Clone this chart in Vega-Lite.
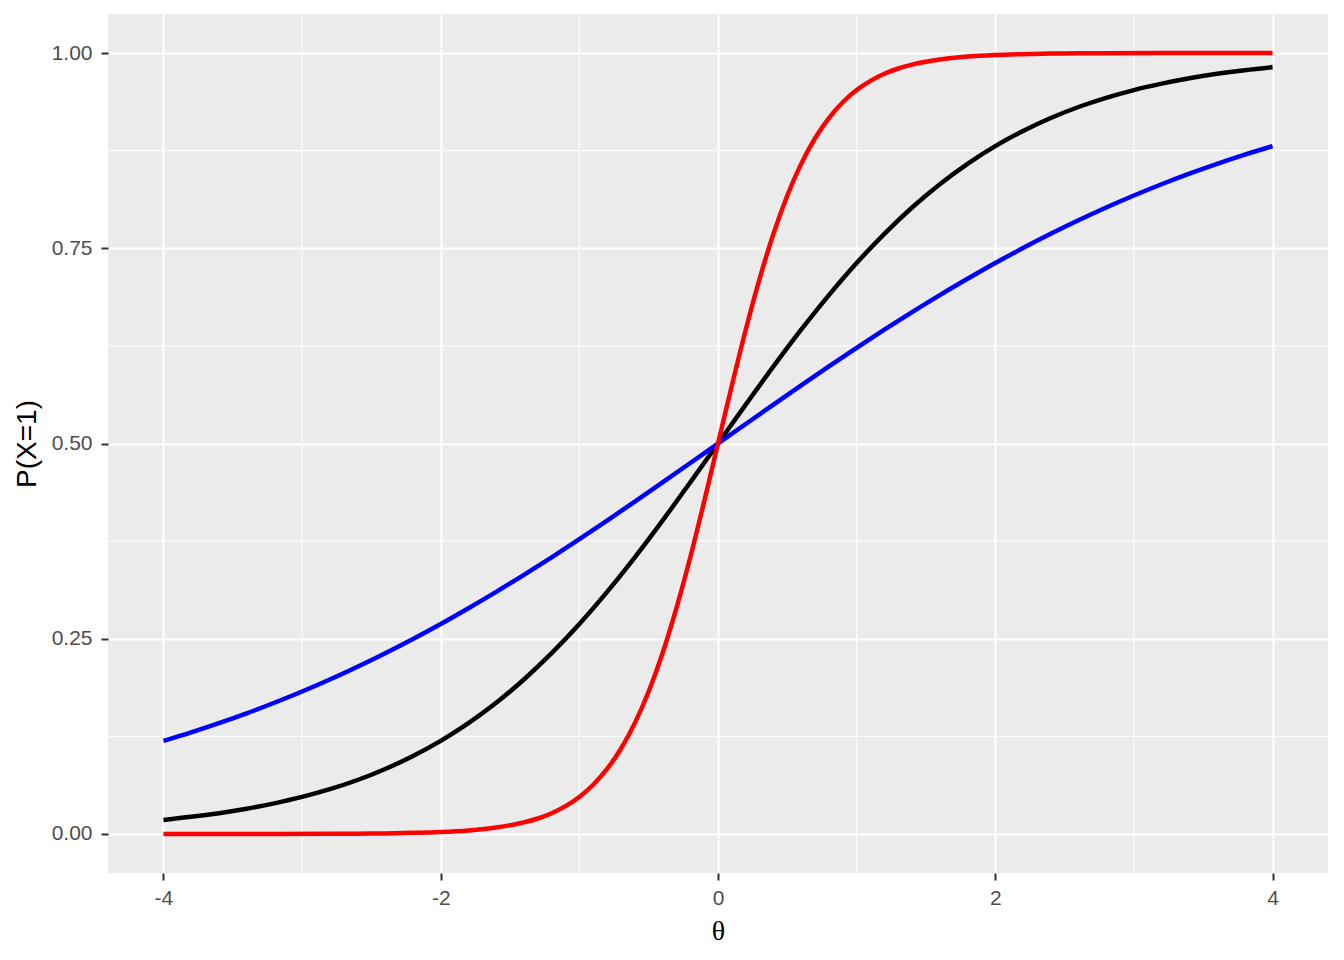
{
  "$schema": "https://vega.github.io/schema/vega-lite/v6.json",
  "width": 1220,
  "height": 859,
  "autosize": {"type": "none"},
  "padding": {"left": 108, "top": 14, "right": 16, "bottom": 87},
  "background": "white",
  "config": {
    "view": {"fill": "#EBEBEB", "stroke": null},
    "axis": {
      "domain": false,
      "gridColor": "white",
      "gridWidth": 2,
      "tickColor": "#333333",
      "tickWidth": 2,
      "tickSize": 7,
      "labelColor": "#4D4D4D",
      "labelFont": "Liberation Sans",
      "labelFontSize": 21,
      "titleColor": "black",
      "titleFontWeight": "normal"
    }
  },
  "datasets": {
    "curves": [
      {"theta": -4.0, "p": 0.0180, "curve": "a1"},
      {"theta": -3.8, "p": 0.0219, "curve": "a1"},
      {"theta": -3.6, "p": 0.0266, "curve": "a1"},
      {"theta": -3.4, "p": 0.0323, "curve": "a1"},
      {"theta": -3.2, "p": 0.0392, "curve": "a1"},
      {"theta": -3.0, "p": 0.0474, "curve": "a1"},
      {"theta": -2.8, "p": 0.0573, "curve": "a1"},
      {"theta": -2.6, "p": 0.0691, "curve": "a1"},
      {"theta": -2.4, "p": 0.0832, "curve": "a1"},
      {"theta": -2.2, "p": 0.0998, "curve": "a1"},
      {"theta": -2.0, "p": 0.1192, "curve": "a1"},
      {"theta": -1.8, "p": 0.1419, "curve": "a1"},
      {"theta": -1.6, "p": 0.1680, "curve": "a1"},
      {"theta": -1.4, "p": 0.1978, "curve": "a1"},
      {"theta": -1.2, "p": 0.2315, "curve": "a1"},
      {"theta": -1.0, "p": 0.2689, "curve": "a1"},
      {"theta": -0.8, "p": 0.3100, "curve": "a1"},
      {"theta": -0.6, "p": 0.3543, "curve": "a1"},
      {"theta": -0.4, "p": 0.4013, "curve": "a1"},
      {"theta": -0.2, "p": 0.4502, "curve": "a1"},
      {"theta": 0.0, "p": 0.5000, "curve": "a1"},
      {"theta": 0.2, "p": 0.5498, "curve": "a1"},
      {"theta": 0.4, "p": 0.5987, "curve": "a1"},
      {"theta": 0.6, "p": 0.6457, "curve": "a1"},
      {"theta": 0.8, "p": 0.6900, "curve": "a1"},
      {"theta": 1.0, "p": 0.7311, "curve": "a1"},
      {"theta": 1.2, "p": 0.7685, "curve": "a1"},
      {"theta": 1.4, "p": 0.8022, "curve": "a1"},
      {"theta": 1.6, "p": 0.8320, "curve": "a1"},
      {"theta": 1.8, "p": 0.8581, "curve": "a1"},
      {"theta": 2.0, "p": 0.8808, "curve": "a1"},
      {"theta": 2.2, "p": 0.9002, "curve": "a1"},
      {"theta": 2.4, "p": 0.9168, "curve": "a1"},
      {"theta": 2.6, "p": 0.9309, "curve": "a1"},
      {"theta": 2.8, "p": 0.9427, "curve": "a1"},
      {"theta": 3.0, "p": 0.9526, "curve": "a1"},
      {"theta": 3.2, "p": 0.9608, "curve": "a1"},
      {"theta": 3.4, "p": 0.9677, "curve": "a1"},
      {"theta": 3.6, "p": 0.9734, "curve": "a1"},
      {"theta": 3.8, "p": 0.9781, "curve": "a1"},
      {"theta": 4.0, "p": 0.9820, "curve": "a1"},

      {"theta": -4.0, "p": 0.1192, "curve": "a2"},
      {"theta": -3.8, "p": 0.1301, "curve": "a2"},
      {"theta": -3.6, "p": 0.1419, "curve": "a2"},
      {"theta": -3.4, "p": 0.1545, "curve": "a2"},
      {"theta": -3.2, "p": 0.1680, "curve": "a2"},
      {"theta": -3.0, "p": 0.1824, "curve": "a2"},
      {"theta": -2.8, "p": 0.1978, "curve": "a2"},
      {"theta": -2.6, "p": 0.2142, "curve": "a2"},
      {"theta": -2.4, "p": 0.2315, "curve": "a2"},
      {"theta": -2.2, "p": 0.2497, "curve": "a2"},
      {"theta": -2.0, "p": 0.2689, "curve": "a2"},
      {"theta": -1.8, "p": 0.2891, "curve": "a2"},
      {"theta": -1.6, "p": 0.3100, "curve": "a2"},
      {"theta": -1.4, "p": 0.3318, "curve": "a2"},
      {"theta": -1.2, "p": 0.3543, "curve": "a2"},
      {"theta": -1.0, "p": 0.3775, "curve": "a2"},
      {"theta": -0.8, "p": 0.4013, "curve": "a2"},
      {"theta": -0.6, "p": 0.4256, "curve": "a2"},
      {"theta": -0.4, "p": 0.4502, "curve": "a2"},
      {"theta": -0.2, "p": 0.4750, "curve": "a2"},
      {"theta": 0.0, "p": 0.5000, "curve": "a2"},
      {"theta": 0.2, "p": 0.5250, "curve": "a2"},
      {"theta": 0.4, "p": 0.5498, "curve": "a2"},
      {"theta": 0.6, "p": 0.5744, "curve": "a2"},
      {"theta": 0.8, "p": 0.5987, "curve": "a2"},
      {"theta": 1.0, "p": 0.6225, "curve": "a2"},
      {"theta": 1.2, "p": 0.6457, "curve": "a2"},
      {"theta": 1.4, "p": 0.6682, "curve": "a2"},
      {"theta": 1.6, "p": 0.6900, "curve": "a2"},
      {"theta": 1.8, "p": 0.7109, "curve": "a2"},
      {"theta": 2.0, "p": 0.7311, "curve": "a2"},
      {"theta": 2.2, "p": 0.7503, "curve": "a2"},
      {"theta": 2.4, "p": 0.7685, "curve": "a2"},
      {"theta": 2.6, "p": 0.7858, "curve": "a2"},
      {"theta": 2.8, "p": 0.8022, "curve": "a2"},
      {"theta": 3.0, "p": 0.8176, "curve": "a2"},
      {"theta": 3.2, "p": 0.8320, "curve": "a2"},
      {"theta": 3.4, "p": 0.8455, "curve": "a2"},
      {"theta": 3.6, "p": 0.8581, "curve": "a2"},
      {"theta": 3.8, "p": 0.8699, "curve": "a2"},
      {"theta": 4.0, "p": 0.8808, "curve": "a2"},

      {"theta": -4.0, "p": 0.0000, "curve": "a3"},
      {"theta": -3.6, "p": 0.0000, "curve": "a3"},
      {"theta": -3.2, "p": 0.0001, "curve": "a3"},
      {"theta": -2.8, "p": 0.0002, "curve": "a3"},
      {"theta": -2.6, "p": 0.0004, "curve": "a3"},
      {"theta": -2.4, "p": 0.0007, "curve": "a3"},
      {"theta": -2.2, "p": 0.0014, "curve": "a3"},
      {"theta": -2.0, "p": 0.0025, "curve": "a3"},
      {"theta": -1.8, "p": 0.0045, "curve": "a3"},
      {"theta": -1.6, "p": 0.0082, "curve": "a3"},
      {"theta": -1.4, "p": 0.0148, "curve": "a3"},
      {"theta": -1.3, "p": 0.0198, "curve": "a3"},
      {"theta": -1.2, "p": 0.0266, "curve": "a3"},
      {"theta": -1.1, "p": 0.0356, "curve": "a3"},
      {"theta": -1.0, "p": 0.0474, "curve": "a3"},
      {"theta": -0.9, "p": 0.0630, "curve": "a3"},
      {"theta": -0.8, "p": 0.0832, "curve": "a3"},
      {"theta": -0.7, "p": 0.1091, "curve": "a3"},
      {"theta": -0.6, "p": 0.1419, "curve": "a3"},
      {"theta": -0.5, "p": 0.1824, "curve": "a3"},
      {"theta": -0.4, "p": 0.2315, "curve": "a3"},
      {"theta": -0.3, "p": 0.2891, "curve": "a3"},
      {"theta": -0.2, "p": 0.3543, "curve": "a3"},
      {"theta": -0.1, "p": 0.4256, "curve": "a3"},
      {"theta": 0.0, "p": 0.5000, "curve": "a3"},
      {"theta": 0.1, "p": 0.5744, "curve": "a3"},
      {"theta": 0.2, "p": 0.6457, "curve": "a3"},
      {"theta": 0.3, "p": 0.7109, "curve": "a3"},
      {"theta": 0.4, "p": 0.7685, "curve": "a3"},
      {"theta": 0.5, "p": 0.8176, "curve": "a3"},
      {"theta": 0.6, "p": 0.8581, "curve": "a3"},
      {"theta": 0.7, "p": 0.8909, "curve": "a3"},
      {"theta": 0.8, "p": 0.9168, "curve": "a3"},
      {"theta": 0.9, "p": 0.9370, "curve": "a3"},
      {"theta": 1.0, "p": 0.9526, "curve": "a3"},
      {"theta": 1.1, "p": 0.9644, "curve": "a3"},
      {"theta": 1.2, "p": 0.9734, "curve": "a3"},
      {"theta": 1.3, "p": 0.9802, "curve": "a3"},
      {"theta": 1.4, "p": 0.9852, "curve": "a3"},
      {"theta": 1.6, "p": 0.9918, "curve": "a3"},
      {"theta": 1.8, "p": 0.9955, "curve": "a3"},
      {"theta": 2.0, "p": 0.9975, "curve": "a3"},
      {"theta": 2.2, "p": 0.9986, "curve": "a3"},
      {"theta": 2.4, "p": 0.9993, "curve": "a3"},
      {"theta": 2.6, "p": 0.9996, "curve": "a3"},
      {"theta": 2.8, "p": 0.9998, "curve": "a3"},
      {"theta": 3.2, "p": 0.9999, "curve": "a3"},
      {"theta": 3.6, "p": 1.0000, "curve": "a3"},
      {"theta": 4.0, "p": 1.0000, "curve": "a3"}
    ],
    "xminor": [{"v": -3}, {"v": -1}, {"v": 1}, {"v": 3}],
    "yminor": [{"v": 0.125}, {"v": 0.375}, {"v": 0.625}, {"v": 0.875}]
  },
  "layer": [
    {
      "data": {"name": "xminor"},
      "mark": {"type": "rule", "color": "white", "strokeWidth": 1},
      "encoding": {
        "x": {"field": "v", "type": "quantitative", "scale": {"domain": [-4.4, 4.4], "nice": false, "zero": false}}
      }
    },
    {
      "data": {"name": "yminor"},
      "mark": {"type": "rule", "color": "white", "strokeWidth": 1},
      "encoding": {
        "y": {"field": "v", "type": "quantitative", "scale": {"domain": [-0.05, 1.05], "nice": false, "zero": false}}
      }
    },
    {
      "data": {"name": "curves"},
      "mark": {"type": "line", "strokeWidth": 4.5, "interpolate": "monotone", "clip": true},
      "encoding": {
        "x": {
          "field": "theta", "type": "quantitative",
          "scale": {"domain": [-4.4, 4.4], "nice": false, "zero": false},
          "axis": {
            "values": [-4, -2, 0, 2, 4],
            "labelExpr": "'' + datum.value",
            "labelPadding": 7,
            "title": "θ",
            "titleFont": "Liberation Serif",
            "titleFontSize": 28,
            "titlePadding": 9
          }
        },
        "y": {
          "field": "p", "type": "quantitative",
          "scale": {"domain": [-0.05, 1.05], "nice": false, "zero": false},
          "axis": {
            "values": [0, 0.25, 0.5, 0.75, 1],
            "format": ".2f",
            "labelPadding": 9,
            "title": "P(X=1)",
            "titleFont": "Liberation Sans",
            "titleFontSize": 28,
            "titlePadding": 10
          }
        },
        "color": {
          "field": "curve", "type": "nominal",
          "scale": {"domain": ["a1", "a2", "a3"], "range": ["black", "blue", "red"]},
          "legend": null
        },
        "order": {"field": "curve"}
      }
    }
  ]
}
